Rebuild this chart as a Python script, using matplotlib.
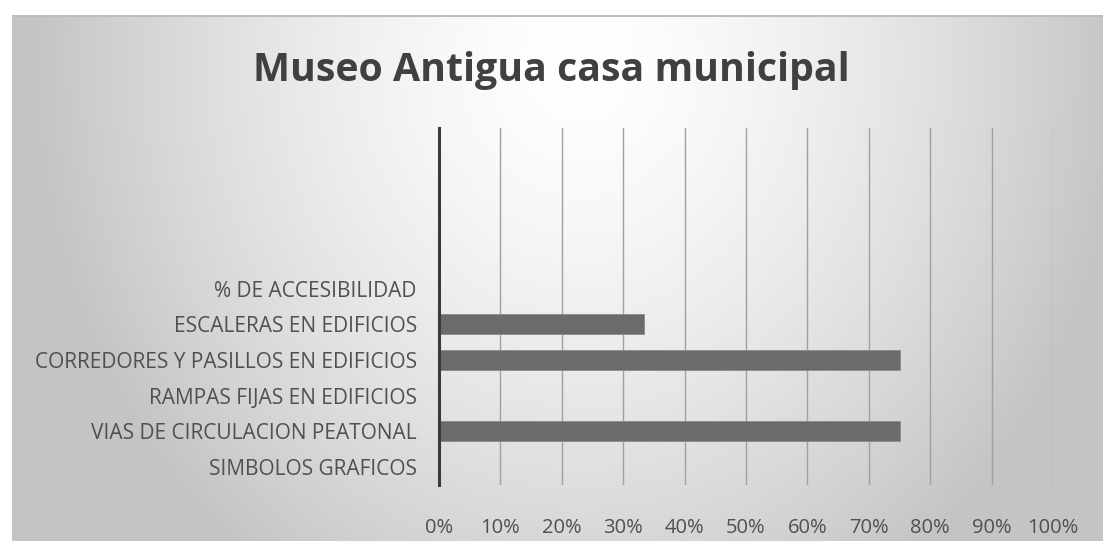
import matplotlib.pyplot as plt
import numpy as np

# Data (top 4 rows of the category axis are empty in the original)
categorias = ["SIMBOLOS GRAFICOS", "VIAS DE CIRCULACION PEATONAL",
              "RAMPAS FIJAS EN EDIFICIOS", "CORREDORES Y PASILLOS EN EDIFICIOS",
              "ESCALERAS EN EDIFICIOS", "% DE ACCESIBILIDAD", "", "", "", ""]
valores = [0, 0.75, 0, 0.75, 1 / 3, 0, 0, 0, 0, 0]
ticks_x = [0, 0.1, 0.2, 0.3, 0.4, 0.5, 0.6, 0.7, 0.8, 0.9, 1.0]

fig = plt.figure(figsize=(11.03, 5.41), dpi=100)
fig.patch.set_facecolor("white")

# gradient background of the chart area
bg = fig.add_axes([12 / 1103, 0, 1 - 12 / 1103, 1 - 15 / 541])
gx, gy = np.meshgrid(np.linspace(0, 1, 400), np.linspace(0, 1, 200))
d = np.sqrt(((gx - 0.52) / 0.5) ** 2 + ((gy - 0.08) / 1.2) ** 2)
shade = np.clip(1 - 0.23 * d ** 1.5, 0.77, 1)
bg.imshow(np.dstack([shade] * 3), aspect="auto", extent=[0, 1, 1, 0])
bg.set_xlim(0, 1)
bg.set_ylim(1, 0)
bg.axis("off")
bg.plot([0, 1], [0.002, 0.002], color="#bdbdbd", lw=1.5)

ax = fig.add_axes([439 / 1103, 1 - 485 / 541, (1053 - 439) / 1103, (485 - 128) / 541])
ax.patch.set_alpha(0)
y = np.arange(len(categorias))
ax.barh(y, valores, height=0.56, color="#6b6b6b", edgecolor="#8a8a8a", linewidth=0.6, zorder=3)
ax.set_ylim(-0.5, len(categorias) - 0.5)
ax.set_xlim(0, 1)
ax.set_yticks(y)
ax.set_yticklabels(categorias, fontsize=15, color="#505050", family="Open Sans")
ax.set_xticks(ticks_x)
ax.set_xticklabels([f"{int(round(t * 100))}%" for t in ticks_x], fontsize=14.5,
                   color="#505050", family="Open Sans")
ax.tick_params(length=0, pad=16, axis="y")
ax.tick_params(length=0, pad=24, axis="x")
for t in ticks_x[1:]:
    ax.axvline(t, color="#a0a0a0", lw=1, zorder=1)
for s in ["top", "right", "bottom"]:
    ax.spines[s].set_visible(False)
ax.spines["left"].set_color("#3a3a3a")
ax.spines["left"].set_linewidth(2.2)
ax.spines["left"].set_zorder(4)

fig.text(0.5, 1 - 70 / 541, "Museo Antigua casa municipal", ha="center", va="center",
         fontsize=28.3, fontweight="bold", color="#404040", family="Open Sans")

fig.savefig("out.png", dpi=100)
